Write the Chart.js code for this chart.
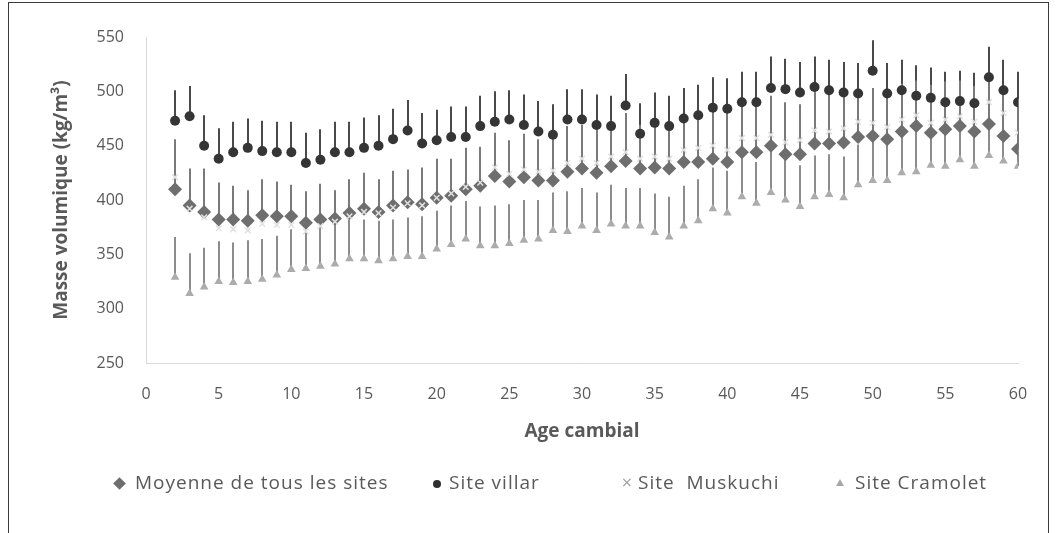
<!DOCTYPE html>
<html>
<head>
<meta charset="utf-8">
<script src="https://cdn.jsdelivr.net/npm/chart.js@4"></script>
<style>
  html, body { margin: 0; padding: 0; background: #fff; }
  #wrap { position: relative; width: 1058px; height: 533px; overflow: hidden; }
  #frame { position: absolute; left: 8px; top: 2px; width: 1041px; height: 560px; border: 1px solid #3a3a3a; box-sizing: border-box; }
  canvas { position: absolute; left: 0; top: 0; }
  .lg { position: absolute; top: 471px; font: 19px 'Open Sans', sans-serif; letter-spacing: 1px; line-height: 22px; color: #595959; white-space: pre; }
  .mk { position: absolute; }
</style>
</head>
<body>
<div id="wrap">
  <div id="frame"></div>
  <canvas id="chart" width="1058" height="533"></canvas>

  <div class="mk" style="left:115px;top:479px;width:9px;height:9px;background:#6e6e6e;transform:rotate(45deg);"></div>
  <span class="lg" style="left:135px;">Moyenne de tous les sites</span>

  <div class="mk" style="left:433px;top:480px;width:8px;height:8px;border-radius:50%;background:#2f2f2f;"></div>
  <span class="lg" style="left:449px;">Site villar</span>

  <span class="mk" style="left:621px;top:474px;font:14px 'DejaVu Sans';color:#9a9a9a;">×</span>
  <span class="lg" style="left:638px;">Site  Muskuchi</span>

  <div class="mk" style="left:836px;top:479px;width:0;height:0;border-left:4px solid transparent;border-right:4px solid transparent;border-bottom:7px solid #a8a8a8;"></div>
  <span class="lg" style="left:855px;">Site Cramolet</span>
</div>

<script>
// Age cambial (years)
var ages = [2, 3, 4, 5, 6, 7, 8, 9, 10, 11, 12, 13, 14, 15, 16, 17, 18, 19, 20, 21,
    22, 23, 24, 25, 26, 27, 28, 29, 30, 31, 32, 33, 34, 35, 36, 37, 38, 39, 40, 41,
    42, 43, 44, 45, 46, 47, 48, 49, 50, 51, 52, 53, 54, 55, 56, 57, 58, 59, 60];

// Masse volumique (kg/m3)
var moyenne = [410, 395, 389, 382, 382, 381, 386, 385, 385, 379, 382, 383, 388, 392, 389, 395, 398, 396, 402, 404,
    410, 413, 422, 417, 421, 418, 418, 426, 429, 425, 431, 436, 429, 430, 429, 435, 435, 438, 435, 444,
    444, 450, 442, 442, 452, 452, 453, 458, 459, 456, 463, 468, 462, 465, 468, 463, 470, 459, 447];
var villar = [473, 477, 450, 438, 444, 448, 445, 444, 444, 434, 437, 444, 444, 448, 450, 456, 464, 452, 455, 458,
    458, 468, 472, 474, 469, 463, 460, 474, 474, 469, 468, 487, 461, 471, 468, 475, 478, 485, 484, 490,
    490, 503, 502, 499, 504, 501, 499, 498, 519, 498, 501, 496, 494, 490, 491, 489, 513, 501, 490];
var muskuchi = [421, 392, 384, 374, 373, 372, 378, 377, 377, 371, 376, 380, 385, 389, 388, 393, 397, 395, 402, 406,
    412, 416, 430, 424, 428, 426, 427, 434, 438, 434, 440, 444, 438, 440, 438, 446, 448, 450, 446, 457,
    457, 460, 453, 455, 464, 463, 466, 472, 471, 467, 474, 478, 471, 474, 477, 472, 490, 480, 462];
var cramolet = [329, 314, 320, 325, 324, 325, 327, 331, 336, 337, 339, 341, 346, 346, 344, 346, 348, 348, 355, 359,
    364, 358, 358, 360, 363, 364, 372, 371, 376, 372, 378, 376, 376, 370, 366, 376, 381, 392, 388, 403,
    397, 407, 400, 394, 403, 405, 402, 414, 418, 418, 425, 426, 432, 431, 437, 431, 441, 436, 431];

// Upper error bars (+ only)
var moyenneErr = [46, 34, 40, 34, 31, 28, 33, 32, 29, 29, 33, 26, 31, 33, 30, 32, 30, 34, 36, 34,
    38, 36, 40, 38, 40, 38, 40, 42, 40, 40, 42, 44, 40, 42, 40, 44, 44, 45, 46, 44,
    44, 46, 48, 46, 48, 46, 46, 44, 44, 46, 44, 42, 44, 44, 42, 42, 42, 44, 46];
var villarErr = [28, 28, 28, 28, 28, 27, 28, 28, 28, 28, 28, 28, 28, 28, 28, 28, 28, 28, 28, 28,
    28, 28, 28, 27, 28, 28, 28, 28, 28, 28, 28, 29, 28, 28, 28, 28, 28, 28, 28, 28,
    28, 29, 28, 28, 28, 28, 28, 28, 28, 28, 28, 28, 28, 28, 28, 28, 28, 28, 28];
var muskuchiErr = [30, 30, 30, 30, 30, 30, 30, 30, 30, 30, 30, 30, 30, 30, 30, 30, 30, 30, 30, 30,
    30, 30, 30, 30, 30, 30, 30, 30, 30, 30, 30, 30, 30, 30, 30, 30, 30, 30, 30, 30,
    30, 30, 30, 30, 30, 30, 30, 30, 30, 30, 30, 30, 30, 30, 30, 30, 30, 30, 30];
var cramoletErr = [37, 37, 36, 37, 37, 38, 37, 36, 37, 34, 38, 38, 36, 36, 37, 36, 36, 37, 35, 36,
    35, 36, 37, 36, 37, 36, 35, 37, 35, 35, 36, 35, 35, 36, 37, 37, 38, 38, 39, 38,
    38, 39, 38, 38, 38, 37, 38, 37, 38, 37, 38, 38, 38, 39, 38, 38, 38, 38, 38];

function points(values) {
    return ages.map(function(a, i) { return { x: a, y: values[i] }; });
}

// Vertical "+" error bars drawn through the chart scales
var errorBars = {
    id: 'errorBars',
    beforeDatasetsDraw: function(chart) {
        var ctx = chart.ctx;
        var xs = chart.scales.x, ys = chart.scales.y;
        for (var d = chart.data.datasets.length - 1; d >= 0; d--) {
            var ds = chart.data.datasets[d];
            if (!ds.errPlus) continue;
            ctx.save();
            ctx.strokeStyle = ds.errColor;
            ctx.lineWidth = 2;
            ds.data.forEach(function(p, j) {
                var px = Math.round(xs.getPixelForValue(p.x));
                ctx.beginPath();
                ctx.moveTo(px, ys.getPixelForValue(p.y));
                ctx.lineTo(px, ys.getPixelForValue(p.y + ds.errPlus[j]));
                ctx.stroke();
            });
            ctx.restore();
        }
    }
};

var tickFont = { family: "'Open Sans', sans-serif", size: 16 };
var titleFont = { family: "'Open Sans', sans-serif", size: 19, weight: 'bold' };

new Chart(document.getElementById('chart').getContext('2d'), {
    type: 'scatter',
    data: {
        datasets: [
            {
                label: 'Moyenne de tous les sites',
                data: points(moyenne),
                errPlus: moyenneErr,
                errColor: '#7a7a7a',
                pointStyle: 'rectRot',
                pointRadius: 7,
                backgroundColor: '#6e6e6e',
                borderColor: '#6e6e6e',
                borderWidth: 0,
                order: 2
            },
            {
                label: 'Site villar',
                data: points(villar),
                errPlus: villarErr,
                errColor: '#4a4a4a',
                pointStyle: 'circle',
                pointRadius: 5,
                backgroundColor: '#353535',
                borderColor: '#353535',
                borderWidth: 0,
                order: 1
            },
            {
                label: 'Site  Muskuchi',
                data: points(muskuchi),
                errPlus: muskuchiErr,
                errColor: '#f2f2f2',
                pointStyle: 'crossRot',
                pointRadius: 4,
                backgroundColor: '#e0e0e0',
                borderColor: '#e0e0e0',
                borderWidth: 1.5,
                order: 0
            },
            {
                label: 'Site Cramolet',
                data: points(cramolet),
                errPlus: cramoletErr,
                errColor: '#8c8c8c',
                pointStyle: 'triangle',
                pointRadius: 5,
                backgroundColor: '#acacac',
                borderColor: '#acacac',
                borderWidth: 0,
                order: 3
            }
        ]
    },
    options: {
        responsive: false,
        animation: false,
        layout: { padding: { left: 46, top: 37, right: 40, bottom: 86 } },
        plugins: {
            legend: { display: false },
            tooltip: { enabled: false }
        },
        scales: {
            x: {
                type: 'linear',
                min: 0,
                max: 60,
                grid: { display: false, drawTicks: false },
                border: { display: true, color: '#d9d9d9', width: 1 },
                ticks: { stepSize: 5, color: '#595959', font: tickFont, padding: 22 },
                title: { display: true, text: 'Age cambial', color: '#595959', font: titleFont },
                afterFit: function(scale) { scale.height = 84; }
            },
            y: {
                min: 250,
                max: 550,
                grid: { display: false, drawTicks: false },
                border: { display: true, color: '#d9d9d9', width: 1 },
                ticks: { stepSize: 50, color: '#595959', font: tickFont, padding: 22 },
                title: { display: true, text: 'Masse volumique (kg/m³)', color: '#595959', font: titleFont },
                afterFit: function(scale) { scale.width = 100; }
            }
        }
    },
    plugins: [errorBars]
});
</script>
</body>
</html>
